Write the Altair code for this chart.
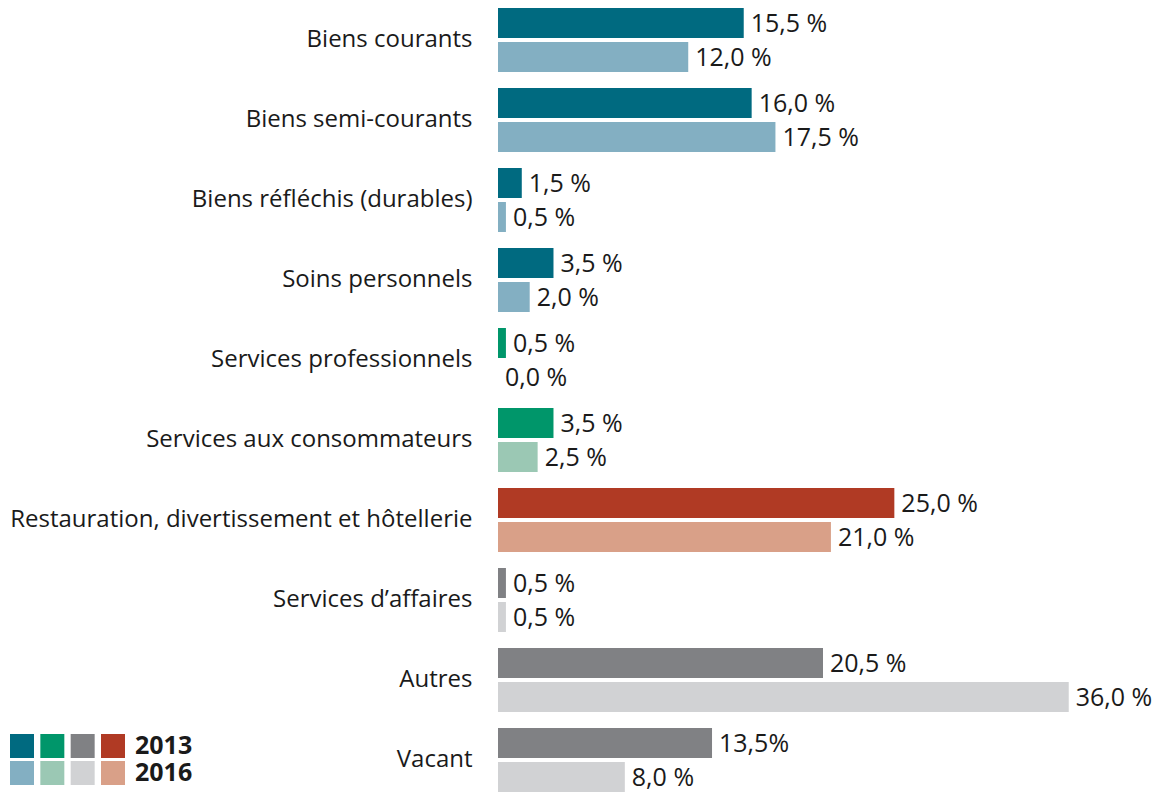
import altair as alt
import pandas as pd

categories = ["Biens courants", "Biens semi-courants", "Biens réfléchis (durables)",
              "Soins personnels", "Services professionnels", "Services aux consommateurs",
              "Restauration, divertissement et hôtellerie", "Services d’affaires",
              "Autres", "Vacant"]
groups = ["commerce", "commerce", "commerce", "commerce", "services", "services",
          "restauration", "autres", "autres", "autres"]
years = ["2013", "2016"]
v2013 = [15.5, 16.0, 1.5, 3.5, 0.5, 3.5, 25.0, 0.5, 20.5, 13.5]
v2016 = [12.0, 17.5, 0.5, 2.0, 0.0, 2.5, 21.0, 0.5, 36.0, 8.0]
labels2013 = ["15,5 %", "16,0 %", "1,5 %", "3,5 %", "0,5 %", "3,5 %", "25,0 %", "0,5 %", "20,5 %", "13,5%"]
labels2016 = ["12,0 %", "17,5 %", "0,5 %", "2,0 %", "0,0 %", "2,5 %", "21,0 %", "0,5 %", "36,0 %", "8,0 %"]

group_order = ["commerce", "services", "autres", "restauration"]
colors = {
    "commerce": {"2013": "#006A80", "2016": "#83AFC2"},
    "services": {"2013": "#00966A", "2016": "#9BC8B4"},
    "autres": {"2013": "#808184", "2016": "#D1D2D4"},
    "restauration": {"2013": "#B03A24", "2016": "#D9A088"},
}

rows = []
for c, g, a, b, la, lb in zip(categories, groups, v2013, v2016, labels2013, labels2016):
    rows.append({"category": c, "year": "2013", "value": a, "label": la, "color": colors[g]["2013"]})
    rows.append({"category": c, "year": "2016", "value": b, "label": lb, "color": colors[g]["2016"]})
df = pd.DataFrame(rows)

leg_rows = []
for i, g in enumerate(group_order):
    for j, yr in enumerate(years):
        leg_rows.append({"col": i, "row": j, "color": colors[g][yr]})
leg_df = pd.DataFrame(leg_rows)
leg_txt_df = pd.DataFrame({"row": [0, 1], "text": years})

FONT = "Open Sans"
TXT = "#1a1a1a"
FS = 24

xscale = alt.Scale(domain=[0, 41], nice=False)
yscale = alt.Scale(domain=categories, paddingInner=0.2, paddingOuter=0)
yoff = alt.YOffset("year:N", scale=alt.Scale(domain=years, paddingInner=0.118, paddingOuter=0))
yaxis = alt.Axis(title=None, domain=False, ticks=False, grid=False, labelPadding=26,
                 labelFontSize=FS, labelFont=FONT, labelColor=TXT, labelLimit=0)

base = alt.Chart(df)
bars = base.mark_bar().encode(
    x=alt.X("value:Q", scale=xscale, axis=None),
    y=alt.Y("category:N", sort=categories, scale=yscale, axis=yaxis),
    yOffset=yoff,
    color=alt.Color("color:N", scale=None),
)
texts = base.mark_text(align="left", baseline="middle", dx=7, dy=1, fontSize=25, font=FONT, color=TXT).encode(
    x=alt.X("value:Q", scale=xscale, axis=None),
    y=alt.Y("category:N", sort=categories, scale=yscale, axis=yaxis),
    yOffset=yoff,
    text="label:N",
)
main = alt.layer(bars, texts)

lx = alt.Scale(type="point", domain=[0, 1, 2, 3], range=[-476, -385], padding=0)
ly = alt.Scale(type="point", domain=[0, 1], range=[738, 765], padding=0)
leg_sq = alt.Chart(leg_df).mark_square(size=576, opacity=1).encode(
    x=alt.X("col:O", scale=lx, axis=None),
    y=alt.Y("row:O", scale=ly, axis=None),
    color=alt.Color("color:N", scale=None),
)
leg_txt = alt.Chart(leg_txt_df).mark_text(align="left", baseline="middle", fontSize=25,
                                          fontWeight="bold", font=FONT, color=TXT).encode(
    x=alt.value(-363),
    y=alt.Y("row:O", scale=ly, axis=None),
    text="text:N",
)
legend = alt.layer(leg_sq, leg_txt)

chart = alt.layer(main, legend).resolve_scale(x="independent", y="independent").properties(
    width=650, height=784,
    autosize=alt.AutoSizeParams(type="none"),
    padding={"left": 490, "top": 0, "right": 13, "bottom": 1},
).configure_view(stroke=None)

chart.save("out.html", embed_options={"renderer": "svg", "actions": False})
